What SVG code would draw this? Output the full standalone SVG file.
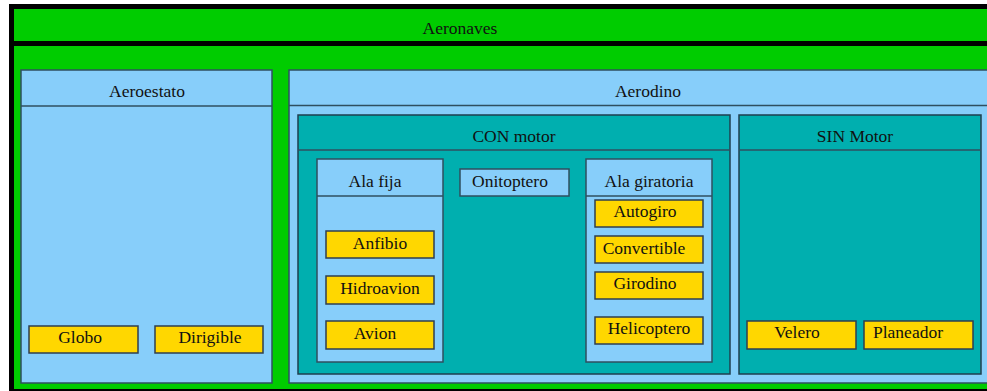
<svg xmlns="http://www.w3.org/2000/svg" width="987" height="391" viewBox="0 0 987 391">
<style>
text{font-family:"Liberation Serif","DejaVu Serif",serif;font-size:17.5px;fill:#111;text-anchor:middle}
.lb{fill:#87CEFA;stroke:#2F4F5F;stroke-width:1.5}
.tl{fill:#00AFAF;stroke:#1F3F4F;stroke-width:1.5}
.it{fill:#FFD700;stroke:#2F3F4F;stroke-width:1.5}
.hl{stroke:#2F4F5F;stroke-width:1.5;fill:none}
</style>
<g id="aeronaves">
<rect x="11.5" y="6.5" width="1000" height="385" fill="#00CC00" stroke="#000" stroke-width="5"/>
<line x1="9" y1="43.5" x2="987" y2="43.5" stroke="#000" stroke-width="5"/>
<text x="460" y="34">Aeronaves</text>
</g>
<g id="aeroestato">
<rect class="lb" x="21" y="70" width="251" height="313"/>
<line class="hl" x1="21" y1="106" x2="272" y2="106"/>
<text x="147" y="97">Aeroestato</text>
</g>
<g id="aerodino">
<rect class="lb" x="289" y="70" width="720" height="313"/>
<line class="hl" x1="289" y1="105.5" x2="987" y2="105.5"/>
<text x="648" y="97">Aerodino</text>
</g>
<g id="con-motor">
<rect class="tl" x="298" y="115" width="432" height="259"/>
<line class="hl" x1="298" y1="150" x2="730" y2="150" stroke="#112"/>
<text x="514" y="142">CON motor</text>
</g>
<g id="sin-motor">
<rect class="tl" x="739" y="115" width="242" height="259"/>
<line class="hl" x1="739" y1="150" x2="981" y2="150" stroke="#112"/>
<text x="855" y="142">SIN Motor</text>
</g>
<g id="ala-fija">
<rect class="lb" x="317" y="159" width="126" height="203"/>
<line class="hl" x1="317" y1="196" x2="443" y2="196"/>
<text x="375" y="187">Ala fija</text>
</g>
<g id="onitoptero">
<rect class="lb" x="460" y="169" width="109" height="27"/>
<text x="510" y="187">Onitoptero</text>
</g>
<g id="ala-giratoria">
<rect class="lb" x="586" y="159" width="126" height="203"/>
<line class="hl" x1="586" y1="196" x2="712" y2="196"/>
<text x="649" y="187">Ala giratoria</text>
</g>
<g id="autogiro"><rect class="it" x="595" y="200" width="108" height="27"/><text x="645" y="217">Autogiro</text></g>
<g id="convertible"><rect class="it" x="595" y="236" width="108" height="27"/><text x="644" y="254">Convertible</text></g>
<g id="girodino"><rect class="it" x="595" y="272" width="108" height="27"/><text x="645" y="289">Girodino</text></g>
<g id="helicoptero"><rect class="it" x="595" y="317" width="108" height="27"/><text x="649" y="334">Helicoptero</text></g>
<g id="anfibio"><rect class="it" x="326" y="231" width="108" height="27"/><text x="380" y="249">Anfibio</text></g>
<g id="hidroavion"><rect class="it" x="326" y="276" width="108" height="28"/><text x="380" y="294">Hidroavion</text></g>
<g id="avion"><rect class="it" x="326" y="321" width="108" height="28"/><text x="375" y="339">Avion</text></g>
<g id="globo"><rect class="it" x="29" y="326" width="109" height="27"/><text x="80" y="343">Globo</text></g>
<g id="dirigible"><rect class="it" x="155" y="326" width="108" height="27"/><text x="210" y="343">Dirigible</text></g>
<g id="velero"><rect class="it" x="747" y="321" width="109" height="28"/><text x="797" y="338">Velero</text></g>
<g id="planeador"><rect class="it" x="864" y="321" width="109" height="28"/><text x="908" y="338">Planeador</text></g>
<g id="connectors"></g>
</svg>
